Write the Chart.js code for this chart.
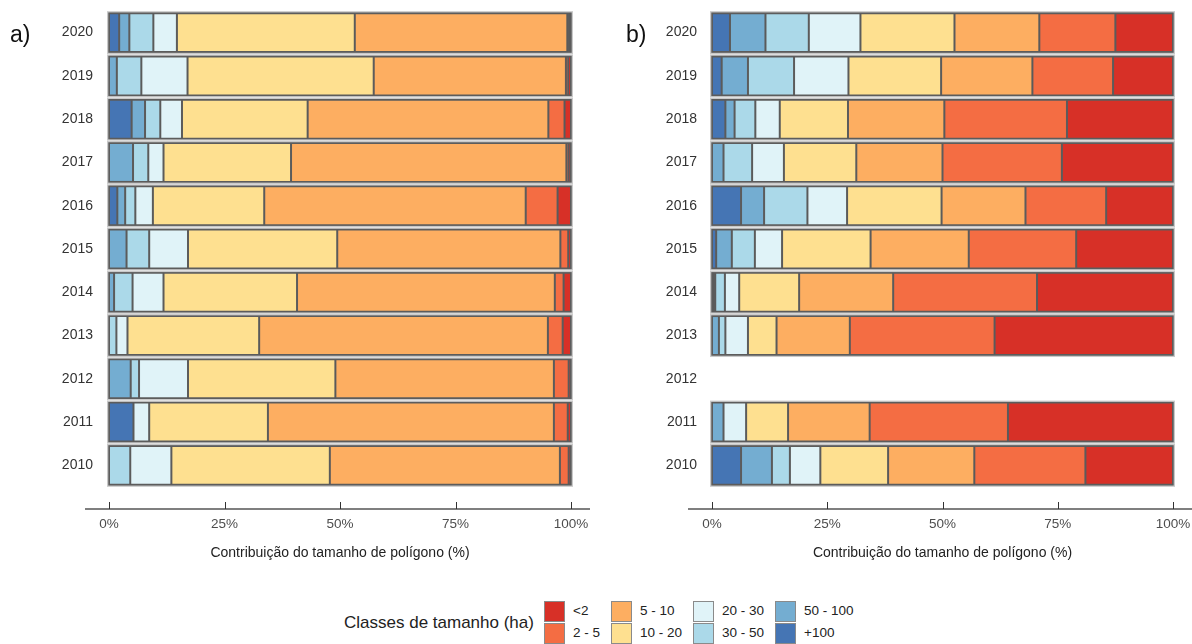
<!DOCTYPE html>
<html>
<head>
<meta charset="utf-8">
<script src="https://cdn.jsdelivr.net/npm/chart.js@4.4.1/dist/chart.umd.min.js"></script>
<style>
    body { margin: 0; background: #fff; width: 1192px; height: 644px; overflow: hidden; position: relative; font-family: "Liberation Sans", Arial, sans-serif; }
    .painel { position: absolute; top: 0; height: 580px; }
    #painelA { left: 0; width: 600px; }
    #painelB { left: 600px; width: 592px; }
    .letra { position: absolute; top: 21px; font-size: 23px; color: #111; }
    #legendaTitulo { position: absolute; left: 344px; top: 613px; font-size: 17px; color: #222; }
    .chave { position: absolute; width: 19px; height: 19px; border: 1.5px solid #8a8a8a; }
    .rotulo { position: absolute; font-size: 13.5px; color: #222; line-height: 22px; }
</style>
</head>
<body>
<div class="painel" id="painelA"><canvas id="graficoA"></canvas></div>
<div class="painel" id="painelB"><canvas id="graficoB"></canvas></div>
<div class="letra" style="left:10px">a)</div>
<div class="letra" style="left:626px">b)</div>
<div id="legendaTitulo">Classes de tamanho (ha)</div>
<div id="legenda"></div>

<script>
// Dados (anos de cima para baixo)
const anos = ['2020', '2019', '2018', '2017', '2016', '2015', '2014', '2013', '2012', '2011', '2010'];
const classes = ['+100', '50 - 100', '30 - 50', '20 - 30', '10 - 20', '5 - 10', '2 - 5', '<2'];
const cores = ['#4575b4', '#74add1', '#abd9e9', '#e0f3f8', '#fee090', '#fdae61', '#f46d43', '#d73027'];
const ticksX = [0, 25, 50, 75, 100];

// Painel a)
const a_mais100 = [2.2, 0, 4.9, 0, 1.8, 0, 0, 0, 0, 5.3, 0];
const a_50_100  = [2.2, 1.7, 2.9, 5.2, 1.7, 3.8, 1.1, 0, 4.7, 0, 0];
const a_30_50   = [5.2, 5.3, 3.3, 3.3, 2.2, 4.9, 4.0, 1.6, 1.8, 0, 4.6];
const a_20_30   = [5.1, 10.0, 4.7, 3.3, 3.8, 8.4, 6.7, 2.4, 10.6, 3.4, 8.9];
const a_10_20   = [38.5, 40.3, 27.2, 27.6, 24.1, 32.3, 28.9, 28.5, 31.9, 25.7, 34.3];
const a_5_10    = [46.0, 41.6, 52.1, 59.6, 56.6, 48.3, 55.8, 62.5, 47.3, 61.9, 49.8];
const a_2_5     = [0.4, 0.5, 3.5, 0.5, 6.9, 1.7, 1.9, 3.2, 3.2, 3.0, 1.9];
const a_menos2  = [0.4, 0.6, 1.4, 0.5, 2.9, 0.6, 1.6, 1.8, 0.5, 0.7, 0.5];

// Painel b) (2012 sem dados)
const b_mais100 = [3.9, 2.1, 2.9, 0, 6.3, 0.9, 0.3, 0, null, 0, 6.3];
const b_50_100  = [7.7, 5.7, 2.0, 2.5, 5.0, 3.4, 0.4, 1.5, null, 2.5, 6.7];
const b_30_50   = [9.4, 10.0, 4.5, 6.2, 9.4, 5.0, 2.1, 1.4, null, 0, 3.9];
const b_20_30   = [11.2, 11.8, 5.3, 6.9, 8.6, 5.9, 3.1, 4.9, null, 4.9, 6.6];
const b_10_20   = [20.4, 20.1, 14.8, 15.7, 20.5, 19.2, 13.0, 6.2, null, 9.1, 14.7];
const b_5_10    = [18.4, 19.8, 20.9, 18.7, 18.2, 21.3, 20.4, 15.9, null, 17.7, 18.7];
const b_2_5     = [16.5, 17.5, 26.6, 25.9, 17.5, 23.3, 31.2, 31.4, null, 30.0, 24.1];
const b_menos2  = [12.5, 13.0, 23.0, 24.1, 14.5, 21.0, 29.5, 38.7, null, 35.8, 19.0];

const seriesA = [a_mais100, a_50_100, a_30_50, a_20_30, a_10_20, a_5_10, a_2_5, a_menos2];
const seriesB = [b_mais100, b_50_100, b_30_50, b_20_30, b_10_20, b_5_10, b_2_5, b_menos2];

// Contorno cinza claro de cada barra
const contornoBarras = {
    id: 'contornoBarras',
    beforeDatasetsDraw(chart) {
        const ctx = chart.ctx;
        const xs = chart.scales.x;
        const x0 = xs.getPixelForValue(0);
        const x1 = xs.getPixelForValue(100);
        chart.getDatasetMeta(0).data.forEach((bar, i) => {
            const temDados = chart.data.datasets.some(d => d.data[i] != null);
            if (!temDados) return;
            const h = bar.height;
            const y = bar.y - h / 2;
            ctx.save();
            ctx.fillStyle = '#c9c9c9';
            ctx.fillRect(x0 - 2, y - 2, x1 - x0 + 4, h + 4);
            ctx.fillStyle = '#5c5c5c';
            ctx.fillRect(x0 - 0.7, y - 0.7, x1 - x0 + 1.4, h + 1.4);
            ctx.restore();
        });
    }
};

// Linha do eixo x com marcas para cima
const linhaEixoX = {
    id: 'linhaEixoX',
    afterDraw(chart) {
        const ctx = chart.ctx;
        const xs = chart.scales.x;
        const yLinha = chart.chartArea.bottom + 22;
        ctx.save();
        ctx.strokeStyle = '#555';
        ctx.lineWidth = 1.6;
        ctx.beginPath();
        ctx.moveTo(xs.left - 24, yLinha);
        ctx.lineTo(xs.right + 19, yLinha);
        ctx.stroke();
        ctx.strokeStyle = '#333';
        ctx.lineWidth = 1;
        xs.ticks.forEach(t => {
            const px = Math.round(xs.getPixelForValue(t.value)) + 0.5;
            ctx.beginPath();
            ctx.moveTo(px, yLinha - 7);
            ctx.lineTo(px, yLinha);
            ctx.stroke();
        });
        ctx.restore();
    }
};

function semMargens(scale) {
    scale.paddingTop = 0;
    scale.paddingBottom = 0;
    scale.paddingLeft = 0;
    scale.paddingRight = 0;
}

function criarGrafico(id, series, larguraY, paddingY, direita) {
    const ctx = document.getElementById(id);
    new Chart(ctx, {
        type: 'bar',
        data: {
            labels: anos,
            datasets: series.map((s, k) => ({
                label: classes[k],
                data: s,
                backgroundColor: cores[k],
                borderColor: '#5c5c5c',
                borderWidth: 1,
                borderSkipped: false,
                barPercentage: 0.9,
                categoryPercentage: 1
            }))
        },
        options: {
            indexAxis: 'y',
            responsive: true,
            maintainAspectRatio: false,
            animation: false,
            layout: { padding: { top: 11, right: direita, left: 0, bottom: 0 } },
            plugins: {
                legend: { display: false },
                tooltip: { enabled: false }
            },
            scales: {
                x: {
                    stacked: true,
                    min: 0,
                    max: 100,
                    afterBuildTicks: scale => { scale.ticks = ticksX.map(v => ({ value: v })); },
                    afterFit: scale => { scale.height = 93; semMargens(scale); },
                    grid: { display: false, drawTicks: false },
                    border: { display: false },
                    ticks: {
                        padding: 29,
                        color: '#4d4d4d',
                        maxRotation: 0,
                        font: { family: "'Liberation Sans', Arial, sans-serif", size: 13.5 },
                        callback: v => v + '%'
                    },
                    title: {
                        display: true,
                        text: 'Contribuição do tamanho de polígono (%)',
                        color: '#222',
                        font: { family: "'Liberation Sans', Arial, sans-serif", size: 14 },
                        padding: { top: 0, bottom: 18 }
                    }
                },
                y: {
                    stacked: true,
                    afterFit: scale => { scale.width = larguraY; semMargens(scale); },
                    grid: { display: false, drawTicks: false },
                    border: { display: false },
                    ticks: {
                        padding: paddingY,
                        color: '#333',
                        font: { family: "'Liberation Sans', Arial, sans-serif", size: 14 }
                    }
                }
            }
        },
        plugins: [contornoBarras, linhaEixoX]
    });
}

criarGrafico('graficoA', seriesA, 109, 16, 29);
criarGrafico('graficoB', seriesB, 112, 15, 19);

// Legenda (colunas de duas linhas, de <2 até +100)
const legenda = document.getElementById('legenda');
const colunasX = [544, 611, 693, 775];
const ordem = classes.slice().reverse();
const coresOrdem = cores.slice().reverse();
ordem.forEach((nome, i) => {
    const col = Math.floor(i / 2);
    const lin = i % 2;
    const chave = document.createElement('div');
    chave.className = 'chave';
    chave.style.left = colunasX[col] + 'px';
    chave.style.top = (601 + lin * 22) + 'px';
    chave.style.background = coresOrdem[i];
    legenda.appendChild(chave);
    const rot = document.createElement('div');
    rot.className = 'rotulo';
    rot.style.left = (colunasX[col] + 29) + 'px';
    rot.style.top = (600 + lin * 22) + 'px';
    rot.textContent = nome;
    legenda.appendChild(rot);
});
</script>
</body>
</html>
